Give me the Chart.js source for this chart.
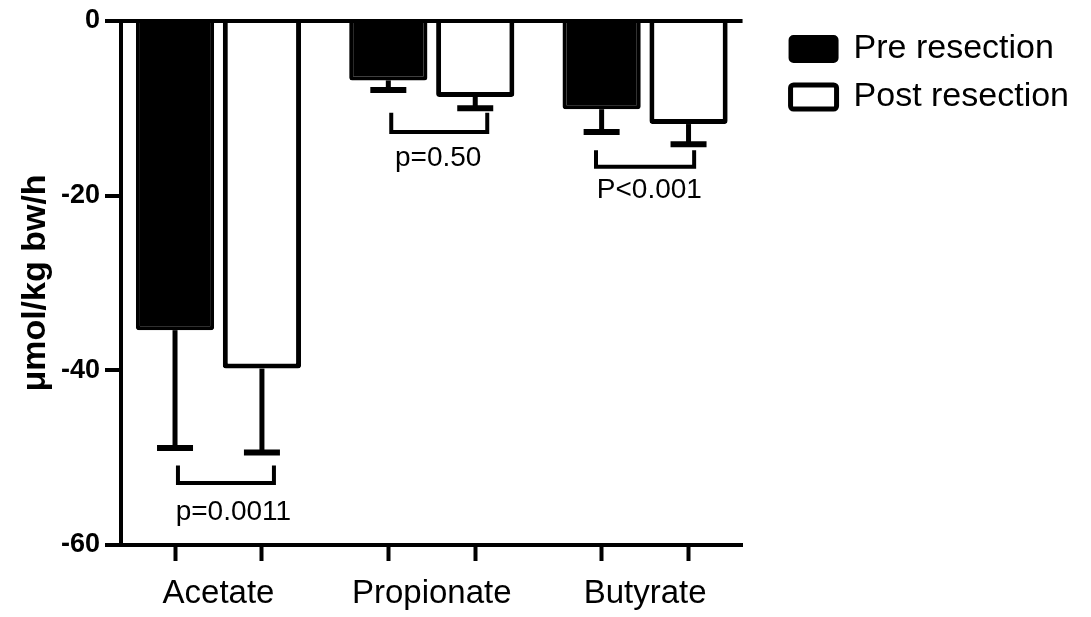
<!DOCTYPE html>
<html>
<head>
<meta charset="utf-8">
<script src="https://cdn.jsdelivr.net/npm/chart.js@4"></script>
<style>
  html, body { margin: 0; background: #fff; }
  #wrap { width: 1091px; height: 617px; }
</style>
</head>
<body>
<div id="wrap"><canvas id="chart"></canvas></div>
<script>
const categories = ['Acetate', 'Propionate', 'Butyrate']
const preMean = [-35.4, -6.8, -10.1]
const preErr = [13.5, 1.1, 2.6]
const postMean = [-39.8, -8.7, -11.8]
const postErr = [9.6, 1.3, 2.3]
const yTicks = [0, -20, -40, -60]

// significance brackets (x in category units, y in axis units)
const pText = ['p=0.0011', 'p=0.50', 'P<0.001']
const bracketFrom = [-0.19, 0.81, 1.77]
const bracketTo = [0.26, 1.26, 2.23]
const bracketTop = [-50.9, -10.5, -14.8]
const bracketBottom = [-52.9, -12.7, -16.7]
const pTextX = [0.07, 1.03, 2.02]
const pTextY = [-56.2, -15.7, -19.4]

const catPct = 0.815
const barPct = 0.9
const xMin = -0.457
const xMax = 2.457

Chart.defaults.font.family = '"Liberation Sans", Arial, Helvetica, sans-serif'
Chart.defaults.color = '#000'

// one-sided error bars under each bar
const errorBars = {
  id: 'errorBars',
  afterDatasetsDraw( chart ) {
    const { ctx } = chart
    const y = chart.scales.y
    ctx.save()
    ctx.strokeStyle = '#000'
    ;[ preErr, postErr ].forEach( ( err, i ) => {
      chart.getDatasetMeta( i ).data.forEach( ( bar, j ) => {
        const end = y.getPixelForValue( chart.data.datasets[ i ].data[ j ].y - err[ j ] )
        ctx.lineWidth = 5
        ctx.beginPath()
        ctx.moveTo( bar.x, bar.y )
        ctx.lineTo( bar.x, end )
        ctx.stroke()
        ctx.lineWidth = 6
        ctx.beginPath()
        ctx.moveTo( bar.x - 18, end )
        ctx.lineTo( bar.x + 18, end )
        ctx.stroke()
      } )
    } )
    ctx.restore()
  }
}

const pLabels = {
  id: 'pLabels',
  afterDatasetsDraw( chart ) {
    const { ctx } = chart
    const x = chart.scales.xb, y = chart.scales.y
    ctx.save()
    ctx.fillStyle = '#000'
    ctx.font = '28px "Liberation Sans", Arial, sans-serif'
    ctx.textAlign = 'center'
    ctx.textBaseline = 'middle'
    pText.forEach( ( t, i ) => ctx.fillText( t, x.getPixelForValue( pTextX[ i ] ), y.getPixelForValue( pTextY[ i ] ) ) )
    ctx.restore()
  }
}

const brackets = pText.map( ( t, i ) => ( {
  type: 'line',
  label: t,
  xAxisID: 'xb',
  data: [
    { x: bracketFrom[ i ], y: bracketTop[ i ] },
    { x: bracketFrom[ i ], y: bracketBottom[ i ] },
    { x: bracketTo[ i ], y: bracketBottom[ i ] },
    { x: bracketTo[ i ], y: bracketTop[ i ] }
  ],
  borderColor: '#000',
  borderWidth: 4,
  pointRadius: 0,
  fill: false,
  tension: 0
} ) )

new Chart( document.getElementById( 'chart' ), {
  type: 'bar',
  data: {
    datasets: [
      {
        label: 'Pre resection',
        xAxisID: 'xb',
        data: categories.map( ( c, i ) => ( { x: i, y: preMean[ i ] } ) ),
        backgroundColor: '#000',
        borderColor: '#000',
        borderWidth: 4,
        borderRadius: 3,
        borderSkipped: 'start',
        categoryPercentage: catPct,
        barPercentage: barPct
      },
      {
        label: 'Post resection',
        xAxisID: 'xb',
        data: categories.map( ( c, i ) => ( { x: i, y: postMean[ i ] } ) ),
        backgroundColor: '#fff',
        borderColor: '#000',
        borderWidth: 5,
        borderRadius: 3,
        borderSkipped: 'start',
        categoryPercentage: catPct,
        barPercentage: barPct
      },
      ...brackets
    ]
  },
  options: {
    responsive: true,
    maintainAspectRatio: false,
    animation: false,
    layout: { padding: { top: 18, right: 12, left: 0, bottom: 0 } },
    plugins: {
      tooltip: { enabled: false },
      legend: {
        position: 'right',
        align: 'start',
        maxWidth: 400,
        labels: {
          filter: item => item.datasetIndex < 2,
          font: { size: 34 },
          boxWidth: 46,
          boxHeight: 24,
          padding: 14,
          useBorderRadius: true,
          borderRadius: 3,
          color: '#000'
        }
      }
    },
    scales: {
      // tick marks under each bar
      xt: {
        type: 'linear',
        position: 'bottom',
        weight: 0,
        min: xMin,
        max: xMax,
        offset: false,
        bounds: 'data',
        afterBuildTicks: s => {
          s.ticks = categories.flatMap( ( c, i ) => [ { value: i - catPct / 4 }, { value: i + catPct / 4 } ] )
        },
        afterFit: s => { s.height = 18 },
        border: { display: true, color: '#000', width: 4 },
        grid: { offset: false, drawOnChartArea: false, tickColor: '#000', tickLength: 16, tickWidth: 4 },
        ticks: { display: false }
      },
      xb: {
        type: 'linear',
        position: 'bottom',
        weight: 1,
        min: xMin,
        max: xMax,
        offset: false,
        bounds: 'data',
        afterBuildTicks: s => { s.ticks = categories.map( ( c, i ) => ( { value: i } ) ) },
        afterFit: s => { s.height = 54 },
        border: { display: false },
        grid: { offset: false, display: false, drawTicks: false },
        ticks: {
          callback: v => categories[ v ],
          font: { size: 33 },
          padding: 11,
          maxRotation: 0,
          autoSkip: false
        }
      },
      y: {
        min: -60,
        max: 0,
        afterBuildTicks: s => { s.ticks = yTicks.map( v => ( { value: v } ) ) },
        afterFit: s => { s.width = 121; s.paddingTop = 21 },
        border: { display: true, color: '#000', width: 4 },
        grid: {
          color: c => c.tick && c.tick.value === 0 ? '#000' : 'rgba(0,0,0,0)',
          lineWidth: 4,
          tickColor: '#000',
          tickLength: 16,
          tickWidth: 4
        },
        ticks: { font: { size: 27, weight: 'bold' }, padding: 5 },
        title: {
          display: true,
          text: 'μmol/kg bw/h',
          font: { size: 34, weight: 'bold' },
          padding: { top: 15, bottom: 0 }
        }
      },
      // spacer between plot and legend
      gap: {
        position: 'right',
        grid: { display: false, drawTicks: false },
        border: { display: false },
        ticks: { display: false },
        afterFit: s => { s.width = 34 }
      }
    }
  },
  plugins: [ errorBars, pLabels ]
} )
</script>
</body>
</html>
